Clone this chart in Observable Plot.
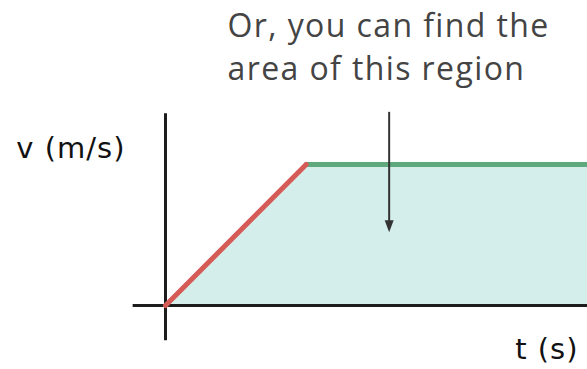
<!DOCTYPE html>
<html>
<head>
<meta charset="utf-8">
<script src="https://cdn.jsdelivr.net/npm/d3@7"></script>
<script src="https://cdn.jsdelivr.net/npm/@observablehq/plot@0.6"></script>
<style>
  html, body { margin: 0; padding: 0; background: #ffffff; }
  #chart svg { display: block; }
  g[font-family="DejaVu Sans"] { letter-spacing: 1px; }
  g[font-family="Open Sans"] { letter-spacing: 1.4px; }
</style>
</head>
<body>
<div id="chart"></div>
<script>
// ---- data ----
const times = [0, 1, 3];            // t (s)
const velocity = [0, 10, 10];       // v (m/s)
const axisExtentT = [-0.23, 3];     // horizontal axis line extent (data units)
const axisExtentV = [-2.5, 13.6];   // vertical axis line extent (data units)
const arrowT = [1.59];              // arrow position along t
const arrowV = [13.7, 5.2];         // arrow shaft top / arrow tip (v)
const arrowShaftEnd = 5.7;          // where the shaft meets the head (v)
const annotation = ["Or, you can find the", "area of this region"];
const axisLabels = ["v (m/s)", "t (s)"];

const pts = times.map((t, i) => ({t, v: velocity[i]}));
const accel = pts.slice(0, 2);
const constant = pts.slice(1);

const arrowHead = {
  draw(ctx) {
    ctx.moveTo(-4.5, -6);
    ctx.lineTo(4.5, -6);
    ctx.lineTo(0, 6);
    ctx.closePath();
  }
};

const chart = Plot.plot({
  width: 587,
  height: 369,
  margin: 0,
  x: {domain: [0, 3], range: [165, 587], axis: null},
  y: {domain: [0, 10], range: [305, 164], axis: null},
  marks: [
    Plot.areaY(pts, {x: "t", y: "v", fill: "#d4eeec"}),
    Plot.ruleY([0], {x1: axisExtentT[0], x2: axisExtentT[1], stroke: "#1c1c1c", strokeWidth: 3}),
    Plot.ruleX([0], {y1: axisExtentV[0], y2: axisExtentV[1], stroke: "#1c1c1c", strokeWidth: 3}),
    Plot.line(constant, {x: "t", y: "v", stroke: "#5fa97c", strokeWidth: 5}),
    Plot.line(accel, {x: "t", y: "v", stroke: "#d65a55", strokeWidth: 5, strokeLinecap: "round"}),
    Plot.ruleX(arrowT, {y1: arrowV[0], y2: arrowShaftEnd, stroke: "#333333", strokeWidth: 2}),
    Plot.dot(arrowT, {x: d => d, y: () => arrowV[1], symbol: arrowHead, fill: "#333333", stroke: null, dy: -6}),
    Plot.text([annotation.join("\n")], {
      frameAnchor: "top-left", dx: 227, dy: 5.5, textAnchor: "start", lineAnchor: "top",
      lineHeight: 1.344, fontSize: 32, fill: "#444444", fontFamily: "Open Sans"
    }),
    Plot.text([axisLabels[0]], {
      frameAnchor: "top-left", dx: 125, dy: 137, textAnchor: "end", lineAnchor: "top",
      fontSize: 29, fill: "#111111", fontFamily: "DejaVu Sans"
    }),
    Plot.text([axisLabels[1]], {
      frameAnchor: "top-left", dx: 578, dy: 338, textAnchor: "end", lineAnchor: "top",
      fontSize: 29, fill: "#111111", fontFamily: "DejaVu Sans"
    })
  ]
});
document.getElementById("chart").appendChild(chart);
</script>
</body>
</html>
